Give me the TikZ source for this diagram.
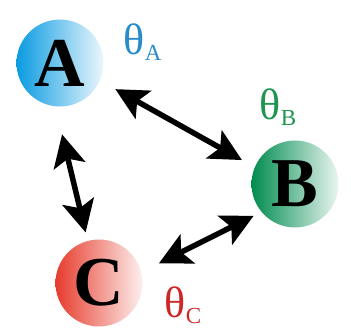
\documentclass[tikz,border=0pt]{standalone}
\usepackage{fontspec}
\setmainfont{Liberation Serif}
\usetikzlibrary{arrows.meta}

\definecolor{ablue}{RGB}{10,155,225}
\definecolor{bgreen}{RGB}{0,140,80}
\definecolor{cred}{RGB}{230,60,45}
\definecolor{alab}{RGB}{40,140,200}
\definecolor{blab}{RGB}{30,150,80}
\definecolor{clab}{RGB}{205,40,40}

\newcommand\lsub[1]{\raisebox{-6pt}{\fontsize{23}{23}\selectfont #1}}

\tikzset{
  site/.style={circle, minimum size=87pt, inner sep=0pt,
    font=\fontsize{70}{70}\selectfont\bfseries},
  angle label/.style={anchor=base west, inner sep=0pt,
    font=\fontsize{44}{44}\selectfont}
}

\begin{document}
\begin{tikzpicture}[x=1pt, y=-1pt, >={Stealth[length=32pt, width=32pt, inset=7pt]}, line width=5.5pt]
    \useasboundingbox (0,0) rectangle (351,336);

    % Sites
    \node[site, left color=ablue, right color=ablue!8] (A) at (60,63) {A};
    \node[site, left color=bgreen, right color=bgreen!8] (B) at (295,184) {B};
    \node[site, left color=cred, right color=cred!8] (C) at (99,283) {C};

    % Angles
    \node[angle label, text=alab] (thA) at (121,55) {θ\lsub{A}};
    \node[angle label, text=blab] (thB) at (257,120) {θ\lsub{B}};
    \node[angle label, text=clab] (thC) at (162,318) {θ\lsub{C}};

    % Couplings
    \draw[<->, shorten <=15pt, shorten >=12pt] (A.-24) -- (B.157);
    \draw[<->, shorten <=26pt, shorten >=6pt] (A.-95) -- (C.105);
    \draw[<->, shorten <=6pt, shorten >=17pt] (B.219) -- (C.15);
\end{tikzpicture}
\end{document}
